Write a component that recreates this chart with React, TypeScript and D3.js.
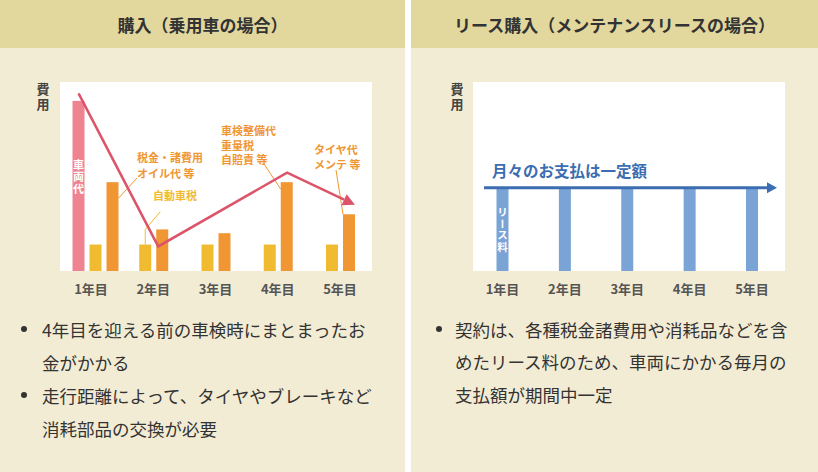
import React from 'react';
import * as d3 from 'd3';

// ---------- data ----------
const years = ['1年目', '2年目', '3年目', '4年目', '5年目'];
const vehicleCost = [90, 0, 0, 0, 0];
const carTax = [14, 14, 14, 14, 14];
const otherCosts = [47, 22, 20, 47, 30];
const trendPos = [0.8, 2.08, 4.15, 5.24];
const trendCost = [94, 13, 52, 35];
const leaseFee = [44, 44, 44, 44, 44];
const leftTitle = '購入（乗用車の場合）';
const rightTitle = 'リース購入（メンテナンスリースの場合）';
const yAxisLabel = '費用';
const vehicleLabel = '車両代';
const leaseLabel = 'リース料';
const leaseMessage = '月々のお支払は一定額';
const noteOther = ['税金・諸費用', 'オイル代 等'];
const noteTax = ['自動車税'];
const noteInspection = ['車検整備代', '重量税', '自賠責 等'];
const noteTire = ['タイヤ代', 'メンテ 等'];
const leftBullets = [
  ['4年目を迎える前の車検時にまとまったお', '金がかかる'],
  ['走行距離によって、タイヤやブレーキなど', '消耗部品の交換が必要'],
];
const rightBullets = [
  ['契約は、各種税金諸費用や消耗品などを含', 'めたリース料のため、車両にかかる毎月の', '支払額が期間中一定'],
];

// ---------- style ----------
const FONT = "'Noto Sans CJK JP', 'Noto Sans', sans-serif";
const C = {
  header: '#e2d89e',
  body: '#f3ecd4',
  plot: '#ffffff',
  text: '#333333',
  axis: '#555555',
  pink: '#f08391',
  yellow: '#f0bb30',
  orange: '#f09632',
  red: '#dc5469',
  blueBar: '#7aa4d6',
  blue: '#3b6db0',
};

const W = 818;
const H = 472;
const HEADER_H = 48;
const LP = { x0: 0, x1: 405 };
const RP = { x0: 411, x1: 818 };
const PLOT_TOP = 82;
const PLOT_BOTTOM = 271;
const BAR_W = 12;
const BAR_GAP = 5;

function arrowHead(x1: number, y1: number, x2: number, y2: number, len: number, half: number) {
  const a = Math.atan2(y2 - y1, x2 - x1);
  const bx = x2 - len * Math.cos(a);
  const by = y2 - len * Math.sin(a);
  const px = -Math.sin(a) * half;
  const py = Math.cos(a) * half;
  return { base: [bx, by], points: `${x2},${y2} ${bx + px},${by + py} ${bx - px},${by - py}` };
}

function VText({ text, x, yTop, size, spacing, fill }: any) {
  return (
    <text
      x={x}
      y={yTop}
      fontSize={size}
      fontWeight="bold"
      fill={fill}
      style={{ writingMode: 'vertical-rl', letterSpacing: spacing } as any}
    >
      {text}
    </text>
  );
}

function Lines({ lines, x, y0, step, size, fill, weight = 'bold' }: any) {
  return (
    <text x={x} y={y0} dominantBaseline="central" fontSize={size} fontWeight={weight} fill={fill}>
      {lines.map((l: string, i: number) => (
        <tspan key={i} x={x} y={y0 + i * step}>
          {l}
        </tspan>
      ))}
    </text>
  );
}

function Bullets({ groups, x, yStart, lineH, bulletX }: any) {
  let row = 0;
  const out: any[] = [];
  groups.forEach((g: string[], gi: number) => {
    out.push(<circle key={'b' + gi} cx={bulletX} cy={yStart + row * lineH} r={3} fill={C.text} />);
    g.forEach((l, li) => {
      out.push(
        <text key={gi + '-' + li} x={x} y={yStart + row * lineH} dominantBaseline="central" fontSize={17.5} fill={C.text}>
          {l}
        </text>
      );
      row++;
    });
  });
  return <g>{out}</g>;
}

export default function App() {
  const y = d3.scaleLinear().domain([0, 100]).range([PLOT_BOTTOM, PLOT_TOP]);
  const xL = d3.scalePoint<string>().domain(years).range([91, 340]);
  const xR = d3.scalePoint<string>().domain(years).range([502.5, 752]);
  const xTrend = d3.scaleLinear().domain([1, 5]).range([91, 340]);

  // left bars
  const leftBars: any[] = [];
  years.forEach((yr, i) => {
    const series = [
      { key: 'vehicle', v: vehicleCost[i], c: C.pink },
      { key: 'tax', v: carTax[i], c: C.yellow },
      { key: 'other', v: otherCosts[i], c: C.orange },
    ].filter((s) => s.v > 0);
    const n = series.length;
    const gw = n * (BAR_W + BAR_GAP) - BAR_GAP;
    const center = (xL(yr) as number) + 0.5 + (n - 2) * 4;
    series.forEach((s, j) => {
      const bx = center - gw / 2 + j * (BAR_W + BAR_GAP);
      leftBars.push({ ...s, year: yr, x: bx, y: y(s.v), h: y(0) - y(s.v) });
    });
  });
  const barOf = (yr: string, key: string) => leftBars.find((b) => b.year === yr && b.key === key);

  const trendPts: [number, number][] = trendPos.map((t, i) => [xTrend(t), y(trendCost[i])]);
  const last = trendPts[trendPts.length - 1];
  const prev = trendPts[trendPts.length - 2];
  const redHead = arrowHead(prev[0], prev[1], last[0], last[1], 12, 6);
  const trendLinePts = [...trendPts.slice(0, -1), redHead.base as [number, number]];
  const line = d3.line();

  const veh = barOf(years[0], 'vehicle');
  const o1 = barOf(years[0], 'other');
  const t2 = barOf(years[1], 'tax');
  const o4 = barOf(years[3], 'other');
  const o5 = barOf(years[4], 'other');

  // right
  const arrowY = y(leaseFee[0]);
  const blueX0 = 484;
  const blueX1 = 777;
  const blueHead = arrowHead(blueX0, arrowY, blueX1, arrowY, 10, 5.5);

  return (
    <svg width={W} height={H} style={{ position: 'absolute', left: 0, top: 0, fontFamily: FONT }}>
      <rect x={0} y={0} width={W} height={H} fill="#ffffff" />
      {/* panels */}
      {[LP, RP].map((p, i) => (
        <g key={i}>
          <rect x={p.x0} y={0} width={p.x1 - p.x0} height={HEADER_H} fill={C.header} />
          <rect x={p.x0} y={HEADER_H} width={p.x1 - p.x0} height={H - HEADER_H} fill={C.body} />
        </g>
      ))}
      <text x={(LP.x0 + LP.x1) / 2} y={24} textAnchor="middle" dominantBaseline="central" fontSize={17} fontWeight="bold" fill={C.text}>
        {leftTitle}
      </text>
      <text x={(RP.x0 + RP.x1) / 2} y={24} textAnchor="middle" dominantBaseline="central" fontSize={17} fontWeight="bold" fill={C.text}>
        {rightTitle}
      </text>

      {/* ---------- left chart ---------- */}
      <rect x={60} y={PLOT_TOP} width={312} height={PLOT_BOTTOM - PLOT_TOP} fill={C.plot} />
      <VText text={yAxisLabel} x={43} yTop={83} size={13} spacing={2} fill="#444" />
      {leftBars.map((b, i) => (
        <rect key={i} x={b.x} y={b.y} width={BAR_W} height={b.h} fill={b.c} />
      ))}
      <VText text={vehicleLabel} x={veh.x + BAR_W / 2} yTop={159} size={11} spacing={1} fill="#fff" />
      {years.map((yr) => (
        <text key={yr} x={xL(yr)} y={288} textAnchor="middle" dominantBaseline="central" fontSize={13} fontWeight="bold" fill={C.axis}>
          {yr}
        </text>
      ))}
      {/* leader lines */}
      <line x1={o1.x + BAR_W} y1={o1.y + 16} x2={137} y2={178} stroke={C.orange} strokeWidth={1} />
      <polyline points={`${t2.x + 6},${t2.y} ${t2.x + 6},${t2.y - 15} ${t2.x + 21},${t2.y - 33}`} fill="none" stroke={C.yellow} strokeWidth={1} />
      <line x1={264} y1={164} x2={o4.x} y2={o4.y + 7} stroke={C.orange} strokeWidth={1} />
      <line x1={336} y1={170} x2={o5.x} y2={o5.y} stroke={C.orange} strokeWidth={1} />
      <path d={line(trendLinePts) as string} fill="none" stroke={C.red} strokeWidth={2.5} strokeLinejoin="miter" />
      <polygon points={redHead.points} fill={C.red} />
      <Lines lines={noteOther} x={137} y0={157} step={16} size={11} fill={C.orange} />
      <Lines lines={noteTax} x={153} y0={195} step={16} size={11} fill={C.yellow} />
      <Lines lines={noteInspection} x={221} y0={130} step={14.5} size={11} fill={C.orange} />
      <Lines lines={noteTire} x={314} y0={149} step={15} size={11} fill={C.orange} />

      {/* ---------- right chart ---------- */}
      <rect x={473} y={PLOT_TOP} width={312} height={PLOT_BOTTOM - PLOT_TOP} fill={C.plot} />
      <VText text={yAxisLabel} x={457} yTop={83} size={13} spacing={2} fill="#444" />
      {years.map((yr, i) => (
        <rect key={yr} x={(xR(yr) as number) - BAR_W / 2} y={y(leaseFee[i])} width={BAR_W} height={y(0) - y(leaseFee[i])} fill={C.blueBar} />
      ))}
      <VText text={leaseLabel} x={xR(years[0])} yTop={207} size={10.5} spacing={1} fill="#fff" />
      {years.map((yr) => (
        <text key={yr} x={xR(yr)} y={288} textAnchor="middle" dominantBaseline="central" fontSize={13} fontWeight="bold" fill={C.axis}>
          {yr}
        </text>
      ))}
      <line x1={blueX0} y1={arrowY} x2={blueHead.base[0]} y2={arrowY} stroke={C.blue} strokeWidth={3} />
      <polygon points={blueHead.points} fill={C.blue} />
      <text x={492} y={170} dominantBaseline="central" fontSize={15.5} fontWeight="bold" fill={C.blue}>
        {leaseMessage}
      </text>

      {/* ---------- bullets ---------- */}
      <Bullets groups={leftBullets} x={42} yStart={329} lineH={33} bulletX={24} />
      <Bullets groups={rightBullets} x={455} yStart={329} lineH={32.5} bulletX={439} />
    </svg>
  );
}
